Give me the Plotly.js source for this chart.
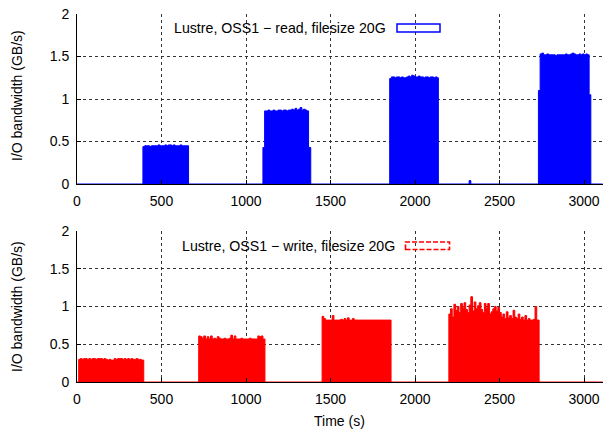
<!DOCTYPE html>
<html>
<head>
<meta charset="utf-8">
<script src="https://cdn.plot.ly/plotly-3.0.1.min.js"></script>
<style>html,body{margin:0;padding:0;background:#fff;}#chart{width:603px;height:432px;}</style>
</head>
<body>
<div id="chart"></div>
<script>
// ---- Data ----
const readLabel = "Lustre, OSS1 \u2212 read, filesize 20G";
const writeLabel = "Lustre, OSS1 \u2212 write, filesize 20G";

const readT = [
  0,
  390,400,410,420,430,440,450,460,470,480,490,500,510,520,530,540,550,560,570,580,590,600,610,620,630,640,650,660,
  1100,1110,1120,1130,1140,1150,1160,1170,1180,1190,1200,1210,1220,1230,1240,1250,1260,1270,1280,1290,1300,1310,1320,1330,1340,1350,1360,1370,1383,
  1850,1860,1870,1880,1890,1900,1910,1920,1930,1940,1950,1960,1970,1980,1990,2000,2010,2020,2030,2040,2050,2060,2070,2080,2090,2100,2110,2120,2130,2138,
  2320,2330,
  2730,2740,2750,2760,2770,2780,2790,2800,2810,2820,2830,2840,2850,2860,2870,2880,2890,2900,2910,2920,2930,2940,2950,2960,2970,2980,2990,3000,3010,3020,3030,3040,
  3110
];
const readV = [
  0,
  0.44,0.45,0.45,0.45,0.44,0.45,0.45,0.45,0.45,0.46,0.45,0.45,0.45,0.46,0.45,0.46,0.46,0.45,0.46,0.45,0.45,0.45,0.46,0.45,0.45,0.45,0.45,0,
  0.43,0.86,0.86,0.87,0.86,0.86,0.87,0.86,0.86,0.87,0.87,0.86,0.87,0.87,0.86,0.87,0.87,0.88,0.87,0.89,0.87,0.88,0.90,0.87,0.88,0.87,0.86,0.43,0,
  1.24,1.26,1.26,1.25,1.26,1.26,1.25,1.26,1.25,1.25,1.26,1.27,1.26,1.28,1.27,1.26,1.26,1.27,1.26,1.26,1.25,1.26,1.26,1.25,1.26,1.26,1.25,1.26,1.25,0,
  0.04,0,
  1.10,1.53,1.54,1.52,1.52,1.53,1.52,1.52,1.52,1.52,1.51,1.52,1.52,1.52,1.52,1.52,1.53,1.52,1.52,1.53,1.54,1.53,1.52,1.52,1.53,1.52,1.53,1.52,1.53,1.52,1.05,0,
  0
];

const writeT = [
  0,
  10,20,30,40,50,60,70,80,90,100,110,120,130,140,150,160,170,180,190,200,210,220,230,240,250,260,270,280,290,300,310,320,330,340,350,360,370,380,395,
  720,730,740,750,760,770,780,790,800,810,820,830,840,850,860,870,880,890,900,910,920,930,940,950,960,970,980,990,1000,1010,1020,1030,1040,1050,1060,1070,1080,1090,1100,1112,
  1450,1460,1470,1480,1490,1500,1510,1520,1530,1540,1550,1560,1570,1580,1590,1600,1610,1620,1630,1640,1650,1660,1670,1680,1690,1700,1710,1720,1730,1740,1750,1760,1770,1780,1790,1800,1810,1820,1830,1840,1850,1858,
  2200,2210,2220,2230,2240,2250,2260,2270,2280,2290,2300,2310,2320,2330,2340,2350,2360,2370,2380,2390,2400,2410,2420,2430,2440,2450,2460,2470,2480,2490,2500,
  2510,2520,2530,2540,2550,2560,2570,2580,2590,2600,2610,2620,2630,2640,2650,2660,2670,2680,2690,2700,2710,2720,2734,
  3110
];
const writeV = [
  0,
  0.30,0.31,0.30,0.31,0.31,0.30,0.31,0.30,0.31,0.31,
  0.30,0.31,0.31,0.31,0.30,0.31,0.30,0.29,0.30,0.29,
  0.29,0.31,0.30,0.31,0.31,0.31,0.30,0.31,0.30,0.31,
  0.30,0.31,0.30,0.30,0.31,0.30,0.30,0.29,0,
  0.61,0.60,0.58,0.61,0.57,0.60,0.57,0.61,0.57,0.58,
  0.57,0.60,0.58,0.57,0.57,0.58,0.57,0.57,0.58,0.62,
  0.57,0.61,0.57,0.57,0.57,0.58,0.57,0.57,0.57,0.57,
  0.58,0.57,0.57,0.57,0.57,0.61,0.60,0.61,0.57,0,
  0.87,0.84,0.82,0.82,0.82,0.82,0.88,0.82,0.82,0.82,
  0.82,0.83,0.82,0.84,0.82,0.85,0.82,0.82,0.84,0.82,
  0.82,0.82,0.82,0.82,0.82,0.82,0.82,0.82,0.82,0.82,
  0.82,0.82,0.82,0.82,0.82,0.82,0.82,0.82,0.82,0.82,
  0.82,0,
  0.90,0.97,0.86,1.03,0.95,1.00,0.92,1.04,0.98,1.05,
  0.96,0.92,1.02,1.13,0.94,1.06,0.97,1.01,1.05,0.96,
  0.92,1.04,0.98,1.04,0.90,0.93,0.97,1.00,0.94,0.99,
  0.92,
  0.86,0.90,0.84,0.93,0.85,0.88,0.84,0.95,0.86,0.84,
  0.90,0.83,0.86,0.82,0.88,0.82,0.84,0.82,0.82,0.83,
  1.00,0.82,0,
  0
];

const yTickVals = [0, 0.5, 1, 1.5, 2];
const yTickText = ["0", "0.5", "1", "1.5", "2"];
const xTickVals = [0, 500, 1000, 1500, 2000, 2500, 3000];
const xTickText = ["0", "500", "1000", "1500", "2000", "2500", "3000"];
const yTitle = "I/O bandwidth (GB/s)";
const xTitle = "Time (s)";

// ---- Styling / layout ----
const W = 603, H = 432;
const px = v => v / W;
const py = v => 1 - v / H;
const FONT = "Liberation Sans, Arial, sans-serif";

const traces = [
  {x: readT, y: readV, xaxis: 'x', yaxis: 'y', type: 'scatter', mode: 'lines',
   line: {color: '#0000ff', width: 1, shape: 'hv'}, fill: 'tozeroy', fillcolor: '#0000ff',
   name: readLabel, showlegend: false, hoverinfo: 'skip'},
  {x: writeT, y: writeV, xaxis: 'x2', yaxis: 'y2', type: 'scatter', mode: 'lines',
   line: {color: '#ff0000', width: 1, shape: 'hv'}, fill: 'tozeroy', fillcolor: '#ff0000',
   name: writeLabel, showlegend: false, hoverinfo: 'skip'}
];

const xRange = [0, 3112];
function xAxis(anchor) {
  return {
    anchor: anchor, domain: [px(77), 1], range: xRange, fixedrange: true,
    tickvals: xTickVals, ticktext: xTickText, ticks: 'inside', ticklen: 4, tickcolor: '#000',
    showline: true, linecolor: '#000', linewidth: 1, mirror: false, zeroline: false,
    showgrid: true, gridcolor: '#333', griddash: 'dot', gridwidth: 1,
    tickfont: {family: FONT, size: 14, color: '#000'}, ticklabelstandoff: 4, automargin: false
  };
}
function yAxis(anchor, top, bottom) {
  return {
    anchor: anchor, domain: [py(bottom), py(top)], range: [0, 2], fixedrange: true,
    tickvals: yTickVals, ticktext: yTickText, ticks: 'inside', ticklen: 4, tickcolor: '#000',
    showline: true, linecolor: '#000', linewidth: 1, mirror: false, zeroline: false,
    showgrid: true, gridcolor: '#333', griddash: 'dot', gridwidth: 1,
    tickfont: {family: FONT, size: 14, color: '#000'}, ticklabelstandoff: 4, automargin: false
  };
}

const layout = {
  width: W, height: H,
  margin: {l: 0, r: 0, t: 0, b: 0},
  paper_bgcolor: '#fff', plot_bgcolor: '#fff',
  showlegend: false,
  font: {family: FONT, size: 14, color: '#000'},
  xaxis: xAxis('y'),
  yaxis: yAxis('x', 14, 184),
  xaxis2: xAxis('y2'),
  yaxis2: yAxis('x2', 231, 382),
  annotations: [
    {text: readLabel, xref: 'paper', yref: 'paper', x: px(388), y: py(28), xanchor: 'right', yanchor: 'middle',
     showarrow: false, font: {family: FONT, size: 14.2, color: '#000'}},
    {text: writeLabel, xref: 'paper', yref: 'paper', x: px(397), y: py(246), xanchor: 'right', yanchor: 'middle',
     showarrow: false, font: {family: FONT, size: 14.2, color: '#000'}},
    {text: yTitle, xref: 'paper', yref: 'paper', x: px(17), y: py(96), xanchor: 'center', yanchor: 'middle',
     textangle: -90, showarrow: false, font: {family: FONT, size: 14, color: '#000'}},
    {text: yTitle, xref: 'paper', yref: 'paper', x: px(17), y: py(307), xanchor: 'center', yanchor: 'middle',
     textangle: -90, showarrow: false, font: {family: FONT, size: 14, color: '#000'}},
    {text: xTitle, xref: 'paper', yref: 'paper', x: px(339), y: py(421), xanchor: 'center', yanchor: 'middle',
     showarrow: false, font: {family: FONT, size: 14, color: '#000'}}
  ],
  shapes: [
    {type: 'rect', xref: 'paper', yref: 'paper', x0: px(397), x1: px(440), y0: py(32), y1: py(24),
     line: {color: '#0000ff', width: 1.5}, fillcolor: 'rgba(0,0,0,0)'},
    {type: 'rect', xref: 'paper', yref: 'paper', x0: px(405.5), x1: px(449.5), y0: py(249.5), y1: py(242),
     line: {color: '#ff0000', width: 1.6, dash: '5px,2px'}, fillcolor: 'rgba(0,0,0,0)'}
  ]
};

Plotly.newPlot('chart', traces, layout, {staticPlot: true, displayModeBar: false});
</script>
</body>
</html>
